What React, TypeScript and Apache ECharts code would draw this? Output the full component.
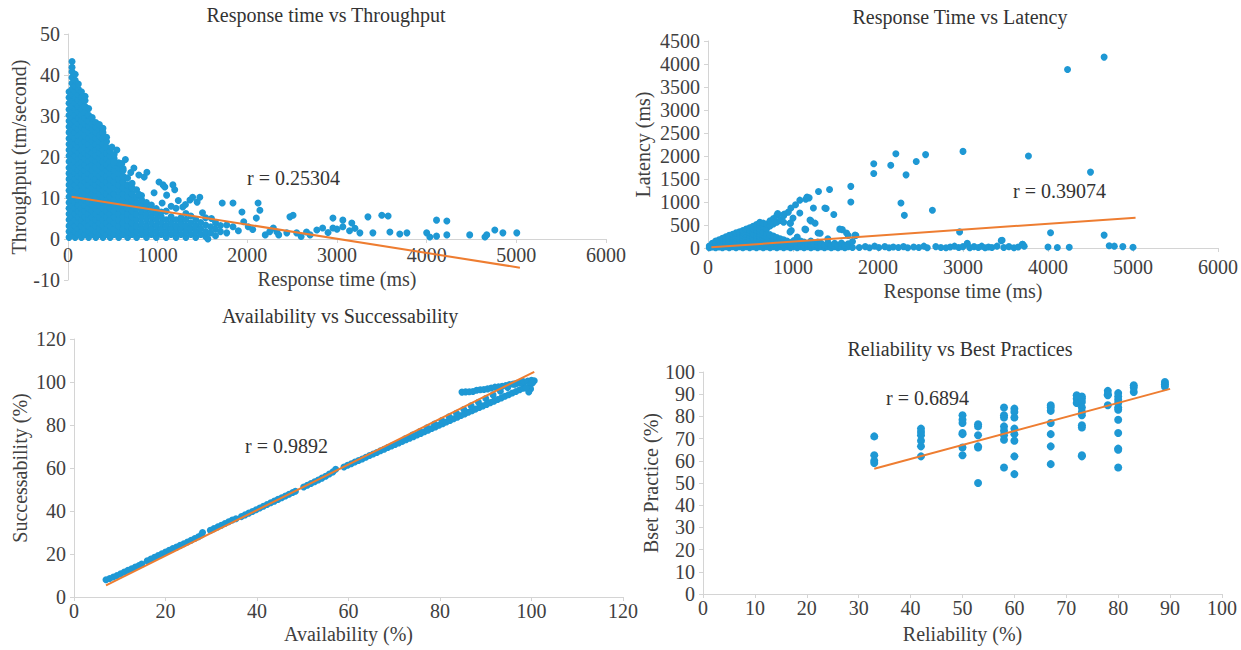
import React, { useEffect, useRef } from "react";
import * as echarts from "echarts";

// ---------- Chart 1: Response time vs Throughput ----------
const rtTpColumns: [number, number[]][] = [
  [12, [0.4, 1.8, 3.2, 4.7, 6.1, 7.5, 8.9, 10.3, 11.8, 13.2, 14.6, 16.0, 17.4, 18.9, 20.3, 21.7, 23.1, 24.5, 26.0, 27.4, 28.8, 30.2, 31.6, 33.1, 34.5, 35.9]],
  [45, [1.1, 2.5, 3.9, 5.4, 6.8, 8.2, 9.6, 11.0, 12.5, 13.9, 15.3, 16.7, 18.1, 19.6, 21.0, 22.4, 23.8, 25.2, 26.7, 28.1, 29.5, 30.9, 32.3, 33.8, 35.2, 36.6, 38.0, 39.4, 40.8, 41.9, 43.3]],
  [80, [0.4, 1.8, 3.2, 4.7, 6.1, 7.5, 8.9, 10.3, 11.8, 13.2, 14.6, 16.0, 17.4, 18.9, 20.3, 21.7, 23.1, 24.5, 26.0, 27.4, 28.8, 30.2, 31.6, 33.1, 34.5, 35.9, 37.3, 38.7, 40.2]],
  [115, [1.1, 2.5, 3.9, 5.4, 6.8, 8.2, 9.6, 11.0, 12.5, 13.9, 15.3, 16.7, 18.1, 19.6, 21.0, 22.4, 23.8, 25.2, 26.7, 28.1, 29.5, 30.9, 32.3, 33.8, 35.2, 36.6, 37.8]],
  [150, [0.4, 1.8, 3.2, 4.7, 6.1, 7.5, 8.9, 10.3, 11.8, 13.2, 14.6, 16.0, 17.4, 18.9, 20.3, 21.7, 23.1, 24.5, 26.0, 27.4, 28.8, 30.2, 31.6, 33.1, 34.5, 35.9]],
  [190, [1.1, 2.5, 3.9, 5.4, 6.8, 8.2, 9.6, 11.0, 12.5, 13.9, 15.3, 16.7, 18.1, 19.6, 21.0, 22.4, 23.8, 25.2, 26.7, 28.1, 29.5, 30.9, 32.3, 33.8, 34.8]],
  [230, [0.4, 1.8, 3.2, 4.7, 6.1, 7.5, 8.9, 10.3, 11.8, 13.2, 14.6, 16.0, 17.4, 18.9, 20.3, 21.7, 23.1, 24.5, 26.0, 27.4, 28.8, 30.2, 31.8]],
  [270, [1.1, 2.5, 3.9, 5.4, 6.8, 8.2, 9.6, 11.0, 12.5, 13.9, 15.3, 16.7, 18.1, 19.6, 21.0, 22.4, 23.8, 25.2, 26.7, 28.1, 29.6]],
  [310, [0.4, 1.8, 3.2, 4.7, 6.1, 7.5, 8.9, 10.3, 11.8, 13.2, 14.6, 16.0, 17.4, 18.9, 20.3, 21.7, 23.1, 24.5, 26.0, 27.4, 28.4]],
  [350, [1.1, 2.5, 3.9, 5.4, 6.8, 8.2, 9.6, 11.0, 12.5, 13.9, 15.3, 16.7, 18.1, 19.6, 21.0, 22.4, 23.8, 25.2, 26.7, 27.9]],
  [390, [0.4, 1.8, 3.2, 4.7, 6.1, 7.5, 8.9, 10.3, 11.8, 13.2, 14.6, 16.0, 17.4, 18.9, 20.3, 21.7, 23.1, 24.5, 26.0, 27.0]],
  [430, [1.1, 2.5, 3.9, 5.4, 6.8, 8.2, 9.6, 11.0, 12.5, 13.9, 15.3, 16.7, 18.1, 19.6, 21.0, 22.4, 23.8, 24.8]],
  [470, [0.4, 1.8, 3.2, 4.7, 6.1, 7.5, 8.9, 10.3, 11.8, 13.2, 14.6, 16.0, 17.4, 18.9, 20.3, 21.5]],
  [515, [1.1, 2.5, 3.9, 5.4, 6.8, 8.2, 9.6, 11.0, 12.5, 13.9, 15.3, 16.7, 18.1, 19.6, 20.6]],
  [565, [0.4, 1.8, 3.2, 4.7, 6.1, 7.5, 8.9, 10.3, 11.8, 13.2, 14.6, 16.0, 17.4, 18.6]],
  [615, [1.1, 2.5, 3.9, 5.4, 6.8, 8.2, 9.6, 11.0, 12.5, 13.9, 15.3, 16.7, 17.2]],
  [665, [0.4, 1.8, 3.2, 4.7, 6.1, 7.5, 8.9, 10.3, 11.8, 13.2, 14.9]],
  [715, [1.1, 2.5, 3.9, 5.4, 6.8, 8.2, 9.6, 11.0, 12.5, 13.6]],
  [765, [0.4, 1.8, 3.2, 4.7, 6.1, 7.5, 8.9, 10.3, 12.0]],
  [820, [1.1, 2.5, 3.9, 5.4, 6.8, 8.2, 9.6, 10.6]],
  [875, [0.4, 1.8, 3.2, 4.7, 6.1, 7.5, 8.9]],
  [930, [1.1, 2.5, 3.9, 5.4, 6.8, 8.3]],
  [985, [0.4, 1.8, 3.2, 4.7, 6.1, 7.4]],
  [1040, [1.1, 2.5, 3.9, 5.4, 6.6]],
  [1095, [0.4, 1.8, 3.2, 4.7, 6.8]],
  [1150, [1.1, 2.5, 3.9, 5.4]],
  [1205, [0.4, 1.8, 3.2, 4.7, 7.5]],
  [1260, [1.1, 2.5, 3.9, 5.2]],
  [1315, [0.4, 1.8, 3.2, 4.7, 6.2]],
  [1370, [1.1, 2.5, 3.9, 5.6]],
  [1425, [0.4, 1.8, 3.2, 4.7]],
  [1480, [1.1, 2.5, 4.0]],
  [1535, [0.6, 1.8, 3.4, 5.2]],
  [1590, [1.5, 3.0]],
  [1645, [0.8, 2.4, 4.0]],
  [1700, [1.8, 3.3]],
];
const rtTpScatter: [number, number][] = [
  [490, 22.4], [545, 21.7], [510, 18.8], [640, 19.4], [600, 18.4], [735, 17.3], [700, 16.2], [790, 15.6],
  [850, 15.1], [880, 16.3], [790, 10.9], [960, 11.3], [1015, 13.9], [1060, 13.2], [1080, 12.7], [1170, 13.2],
  [1190, 12.0], [1100, 10.7], [1050, 8.8], [1280, 7.8], [1360, 9.5], [1390, 10.2], [1440, 9.0], [1470, 10.2],
  [1720, 8.8], [1840, 8.8], [1940, 6.6], [2100, 5.1], [2120, 8.8], [2140, 7.0], [1560, 0.0], [1770, 1.5],
  [1770, 3.4], [1840, 3.0], [2010, 3.0], [2290, 2.7], [2330, 1.7], [2440, 1.5], [2475, 5.4], [2510, 5.8],
  [2550, 1.5], [2660, 1.7], [2775, 2.2], [2840, 2.7], [2955, 2.7], [2955, 5.1], [3065, 3.0], [3065, 4.6],
  [3140, 2.0], [3165, 3.9], [3255, 1.5], [3345, 5.4], [3400, 1.5], [3500, 5.8], [3570, 5.6], [3590, 1.7],
  [3700, 1.2], [3780, 1.5], [4000, 1.5], [4035, 0.5], [4110, 0.7], [4110, 4.6], [4225, 1.0], [4225, 4.4],
  [4480, 1.0], [4650, 0.5], [4670, 1.0], [4760, 2.2], [4850, 1.5], [5005, 1.5], [1900, 2.0], [1960, 4.2],
  [2060, 2.3], [2200, 1.0], [2250, 1.8], [1230, 9.4], [1310, 8.4], [1150, 8.0], [1500, 6.4], [1600, 5.0],
  [2350, 1.0], [2600, 0.6], [2700, 1.0], [2900, 1.6], [3000, 2.4], [3200, 2.6],
];
const rtTpTrend: [number, number][] = [[40, 10.3], [5040, -7.0]];

// ---------- Chart 2: Response Time vs Latency ----------
const rtLatColumns: [number, number[]][] = [
  [15, [5, 45]],
  [50, [20, 70, 100]],
  [90, [5, 55, 110, 150]],
  [130, [25, 80, 135, 180]],
  [170, [5, 60, 115, 170, 210]],
  [210, [30, 85, 140, 195, 245]],
  [250, [5, 60, 115, 170, 225, 275]],
  [290, [30, 85, 140, 195, 250, 300]],
  [330, [5, 60, 115, 170, 225, 280, 330]],
  [370, [30, 85, 140, 195, 250, 305, 350]],
  [410, [5, 60, 115, 170, 225, 280, 335, 380]],
  [450, [30, 85, 140, 195, 250, 305, 360, 410]],
  [490, [5, 60, 115, 170, 225, 280, 335, 390, 440]],
  [530, [30, 85, 140, 195, 250, 305, 360, 415, 470]],
  [570, [5, 60, 115, 170, 225, 280, 335, 390, 445, 510]],
  [610, [30, 85, 140, 195, 250, 305, 360, 420, 500, 560]],
  [650, [5, 60, 115, 170, 225, 280, 340, 470, 540]],
  [690, [30, 85, 140, 195, 250, 310, 420, 520]],
  [730, [5, 60, 115, 170, 225, 290, 480, 590]],
  [770, [30, 85, 140, 195, 260, 520, 640]],
  [810, [5, 60, 115, 170, 230, 560, 710]],
  [850, [30, 85, 140, 200, 600]],
  [890, [5, 60, 115, 180, 560, 700]],
  [930, [30, 85, 150]],
  [970, [5, 60, 120, 540]],
  [1010, [30, 85, 160]],
  [1050, [5, 60, 120, 240]],
  [1090, [30, 85, 150]],
  [1130, [5, 60, 130]],
  [1170, [30, 90]],
  [1210, [5, 60, 150]],
  [1250, [30, 90]],
  [1290, [5, 60, 130]],
  [1330, [30, 100]],
  [1370, [5, 60]],
  [1410, [30, 110, 200]],
  [1450, [5, 60]],
  [1490, [30, 100]],
  [1530, [5, 60]],
  [1570, [30, 110]],
  [1610, [5, 60]],
  [1650, [30, 90]],
  [1700, [10, 140]],
];
const rtLatScatter: [number, number][] = [
  [4230, 3880], [4660, 4150], [3000, 2100], [3770, 2000], [4500, 1650], [4660, 280], [4030, 330], [2960, 350],
  [1950, 1830], [1950, 1620], [2210, 2050], [2150, 1800], [2450, 1880], [2560, 2030], [2330, 1590], [2270, 980],
  [2310, 710], [2640, 820], [1680, 1340], [1680, 1000], [1430, 1270], [1300, 1230], [1390, 860], [1480, 730],
  [1240, 870], [1580, 400], [1320, 320], [1150, 400], [1210, 590], [1260, 540], [1150, 1060], [1190, 1090],
  [1030, 940], [975, 870], [1000, 650], [980, 380], [820, 750], [900, 740], [1740, 270], [1650, 270],
  [3450, 160], [3700, 80], [3050, 100], [1080, 1040], [1165, 1110], [945, 780], [885, 717], [965, 540],
  [1080, 760], [1375, 870], [1200, 610], [1140, 410], [965, 350], [1295, 325], [1550, 410], [1630, 325], [1730, 280],
  [1780, 10], [1850, 30], [1900, 5], [1960, 40], [2010, 10], [2080, 30], [2130, 5], [2180, 20], [2240, 10],
  [2300, 30], [2350, 5], [2420, 20], [2480, 10], [2540, 40], [2580, 5], [2680, 30], [2740, 10], [2800, 5],
  [2850, 20], [2900, 40], [2950, 10], [3000, 30], [3050, 80], [3080, 5], [3130, 30], [3180, 10], [3220, 40],
  [3260, 5], [3300, 20], [3340, 10], [3400, 40], [3460, 170], [3480, 10], [3540, 30], [3600, 5], [3650, 20],
  [3700, 80], [3720, 40], [4000, 20], [4110, 10], [4250, 15], [4720, 50], [4780, 40], [4880, 30], [5000, 15],
];
const rtLatTrend: [number, number][] = [[40, 15], [5030, 660]];

// ---------- Chart 3: Availability vs Successability ----------
const availSuccPoints: [number, number][] = [
  [7.0, 8.0], [7.8, 8.6], [8.6, 9.3], [9.4, 10.0], [10.2, 10.8], [11.0, 11.6], [11.8, 12.4], [12.6, 13.1], [13.4, 13.9], [14.2, 14.6], [14.8, 15.3],
  [16.0, 16.8], [16.8, 17.7], [17.6, 18.5], [18.4, 19.3], [19.2, 20.1], [20.0, 20.9], [20.8, 21.7], [21.6, 22.5], [22.4, 23.2], [23.2, 24.0],
  [24.0, 24.8], [24.8, 25.6], [25.6, 26.4], [26.4, 27.2], [27.2, 28.0], [27.9, 29.0], [28.1, 30.0],
  [29.8, 31.0], [30.6, 31.8], [31.4, 32.6], [32.2, 33.4], [33.0, 34.2], [33.8, 35.0], [34.6, 35.8], [35.4, 36.4],
  [36.6, 37.4], [37.4, 38.2], [38.2, 39.0], [39.0, 39.8], [39.8, 40.6], [40.6, 41.4], [41.4, 42.2], [42.2, 43.0], [43.0, 43.8],
  [43.8, 44.6], [44.6, 45.4], [45.4, 46.2], [46.2, 47.0], [47.0, 47.8], [47.8, 48.6], [48.4, 49.2],
  [50.2, 51.2], [51.0, 52.0], [51.8, 52.8], [52.6, 53.6], [53.4, 54.4], [54.2, 55.3], [55.0, 56.2], [55.8, 57.2], [56.6, 58.2], [57.2, 59.4],
  [59.0, 60.5], [59.8, 61.3], [60.6, 62.0], [61.4, 62.8], [62.2, 63.5], [63.0, 64.2], [63.8, 65.0], [64.6, 65.8], [65.4, 66.5], [66.2, 67.2],
  [67.0, 68.0], [67.8, 68.7], [68.6, 69.5], [69.4, 70.2], [70.2, 71.0], [71.0, 71.7], [71.8, 72.4], [72.6, 73.2], [73.4, 73.9], [74.2, 74.6],
  [75.0, 75.4], [75.8, 76.1], [76.6, 76.9], [77.4, 77.6], [78.2, 78.4], [79.0, 79.1], [79.8, 79.9], [80.6, 80.6], [81.4, 81.4], [82.2, 82.1],
  [83.0, 82.9], [83.8, 83.6], [84.6, 84.4], [85.4, 85.1], [86.2, 85.9], [87.0, 86.6], [87.8, 87.4], [88.6, 88.1], [89.4, 88.9], [90.2, 89.6],
  [91.0, 90.4], [91.8, 91.1], [92.6, 91.9], [93.4, 92.6], [94.2, 93.4], [95.0, 94.1], [95.8, 94.9], [96.6, 95.6], [97.4, 96.4], [98.2, 97.1],
  [72.4, 73.6], [74.0, 75.3], [75.6, 77.0], [77.2, 78.7], [78.8, 80.4], [80.4, 82.1], [82.0, 83.8], [83.6, 85.5], [85.2, 87.2],
  [86.8, 88.9], [88.4, 90.6], [90.0, 92.3], [91.6, 94.0], [93.2, 95.7], [94.8, 97.4], [96.4, 99.0], [98.0, 100.3],
  [84.8, 95.3], [85.6, 95.4], [86.4, 95.5], [87.2, 95.6], [88.0, 96.2], [88.8, 96.4], [89.6, 96.5], [90.4, 96.8], [91.2, 97.2], [92.0, 97.6],
  [92.8, 97.8], [93.6, 98.0], [94.4, 98.4], [95.2, 98.8], [96.0, 99.0], [96.8, 99.4], [97.6, 99.6], [98.4, 100.0], [99.2, 100.4], [100.0, 100.8],
  [100.6, 100.6], [99.6, 98.6], [99.8, 96.8], [99.4, 95.4], [100.2, 99.5], [98.8, 97.2],
];
const availSuccTrend: [number, number][] = [[7, 5.4], [100.6, 104.7]];

// ---------- Chart 4: Reliability vs Best Practices ----------
const relBpColumns: [number, number[]][] = [
  [33, [71, 62.5, 60, 59]],
  [42, [74.5, 73, 71.5, 69, 66.5, 62]],
  [50, [80.5, 78.5, 77, 72.5, 72, 66, 62.5]],
  [53, [76.5, 75.5, 71.5, 66.5, 66, 50]],
  [58, [84, 80.5, 79.5, 75.5, 73.5, 71.5, 69.5, 57]],
  [60, [83.5, 82, 79.5, 74.5, 72, 69, 62, 54]],
  [67, [85, 84, 82.5, 77, 72, 66.5, 58.5]],
  [72, [89.5, 88, 86]],
  [73, [89, 88, 86.5, 84, 82, 80.5, 76, 75, 62.5, 62]],
  [78, [91.5, 90, 89.5, 85]],
  [80, [90.5, 89, 87.5, 86, 84, 83, 78.5, 72.5, 65.5, 65, 57]],
  [83, [94, 93, 91]],
  [89, [95.5, 94.5, 93.5]],
];
const relBpTrend: [number, number][] = [[33, 56.4], [90, 92.4]];

const titles = ["Response time vs Throughput", "Response Time vs Latency", "Availability vs Successability", "Reliability vs Best Practices"];
const rLabels = ["r = 0.25304", "r = 0.39074", "r = 0.9892", "r = 0.6894"];
const xNames = ["Response time (ms)", "Response time (ms)", "Availability (%)", "Reliability (%)"];
const yNames = ["Throughput (tm/second)", "Latency (ms)", "Successability (%)", "Bset Practice (%)"];

const FONT = "Liberation Serif";
const BLUE = "#1e98d4";
const ORANGE = "#ee7d31";
const TEXT = "#404040";
const AXIS = "#d4d4d4";

const fromColumns = (cols: [number, number[]][]) =>
  cols.flatMap(([x, ys]) => ys.map((y) => [x, y]));

export default function App() {
  const ref = useRef<HTMLDivElement>(null);
  useEffect(() => {
    if (!ref.current) return;
    const chart = echarts.init(ref.current, null, { renderer: "svg" });

    const grids = [
      { left: 68, top: 34, width: 538, height: 246 },
      { left: 708, top: 41, width: 510, height: 207 },
      { left: 74, top: 339, width: 549, height: 258 },
      { left: 703, top: 372, width: 519, height: 222 },
    ];
    const xRanges = [
      { min: 0, max: 6000, interval: 1000 },
      { min: 0, max: 6000, interval: 1000 },
      { min: 0, max: 120, interval: 20 },
      { min: 0, max: 100, interval: 10 },
    ];
    const yRanges = [
      { min: -10, max: 50, interval: 10 },
      { min: 0, max: 4500, interval: 500 },
      { min: 0, max: 120, interval: 20 },
      { min: 0, max: 100, interval: 10 },
    ];
    const xOffsets = [-41, 0, 0, 0];
    const xLabelMargins = [6, 9, 4, 4];
    const xNameGaps = [30, 33, 27, 30];
    const yNameGaps = [36, 55, 44, 38];

    const axisCommon = (i: number) => ({
      type: "value" as const,
      gridIndex: i,
      axisLine: { show: true, onZero: false, lineStyle: { color: AXIS, width: 1 } },
      axisTick: { show: true, length: 4, lineStyle: { color: AXIS } },
      splitLine: { show: false },
      nameLocation: "middle" as const,
      nameTextStyle: { color: TEXT, fontFamily: FONT, fontSize: 20 },
    });
    const labelStyle = (margin: number) => ({
      color: TEXT,
      fontFamily: FONT,
      fontSize: 20,
      margin,
      formatter: (v: number) => String(v),
    });

    const scatterData = [
      fromColumns(rtTpColumns).concat(rtTpScatter),
      fromColumns(rtLatColumns).concat(rtLatScatter),
      availSuccPoints,
      fromColumns(relBpColumns),
    ];
    const trends = [rtTpTrend, rtLatTrend, availSuccTrend, relBpTrend];
    const symbolSizes = [7, 7, 7, 8];

    const series: any[] = [];
    for (let i = 0; i < 4; i++) {
      series.push({
        type: "scatter",
        xAxisIndex: i,
        yAxisIndex: i,
        data: scatterData[i],
        symbolSize: symbolSizes[i],
        itemStyle: { color: BLUE, opacity: 1 },
        z: 2,
        silent: true,
      });
      series.push({
        type: "line",
        xAxisIndex: i,
        yAxisIndex: i,
        data: trends[i],
        symbol: "none",
        lineStyle: { color: ORANGE, width: 2 },
        z: 3,
        silent: true,
      });
    }

    const titlePos = [
      [326, 15],
      [960, 17],
      [340, 316],
      [960, 349],
    ];
    const rPos = [
      [247, 178],
      [1013, 191],
      [245, 446],
      [886, 398],
    ];

    const graphic: any[] = [];
    for (let i = 0; i < 4; i++) {
      graphic.push({
        type: "text",
        x: titlePos[i][0],
        y: titlePos[i][1],
        style: {
          text: titles[i],
          fill: "#333333",
          font: `20px "${FONT}"`,
          textAlign: "center",
          textVerticalAlign: "middle",
        },
      });
      graphic.push({
        type: "text",
        x: rPos[i][0],
        y: rPos[i][1],
        z: 10,
        style: {
          text: rLabels[i],
          fill: "#333333",
          font: `20px "${FONT}"`,
          textAlign: "left",
          textVerticalAlign: "middle",
        },
      });
    }

    chart.setOption({
      animation: false,
      backgroundColor: "#ffffff",
      textStyle: { fontFamily: FONT },
      grid: grids,
      xAxis: grids.map((_, i) => ({
        ...axisCommon(i),
        ...xRanges[i],
        offset: xOffsets[i],
        axisLabel: labelStyle(xLabelMargins[i]),
        name: xNames[i],
        nameGap: xNameGaps[i],
      })),
      yAxis: grids.map((_, i) => ({
        ...axisCommon(i),
        ...yRanges[i],
        axisLabel: labelStyle(8),
        name: yNames[i],
        nameGap: yNameGaps[i],
      })),
      series,
      graphic,
    });

    return () => chart.dispose();
  }, []);

  return (
    <div
      ref={ref}
      style={{ position: "absolute", left: 0, top: 0, width: 1241, height: 650 }}
    />
  );
}
